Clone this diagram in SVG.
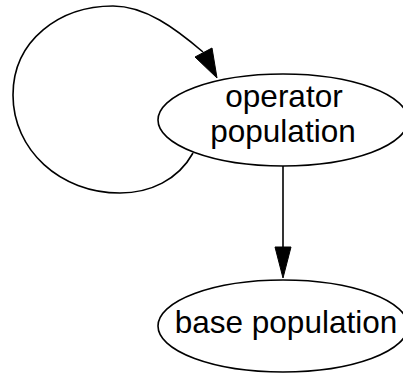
<svg xmlns="http://www.w3.org/2000/svg" width="403" height="373" viewBox="0 0 403 373">
  <style>
    .node ellipse { fill: none; stroke: #000; stroke-width: 1.6; }
    .node text { font-family: "Liberation Sans", Arial, sans-serif; font-size: 31.5px; fill: #000; text-anchor: middle; }
    .edge path { fill: none; stroke: #000; stroke-width: 1.6; }
    .edge polygon { fill: #000; stroke: #000; stroke-width: 1; }
  </style>
  <rect width="403" height="373" fill="#fff"/>
  <g id="edges">
    <g class="edge" id="edge-self">
      <path d="M193,153 C178,180 150,193 120,193 C60,193 13,150 13,95 C13,40 60,6 113,6 C145,6 175,28 203,52"/>
      <polygon points="217,78 195,57 212,48"/>
    </g>
    <g class="edge" id="edge-down">
      <path d="M283,166 L283,248"/>
      <polygon points="283,278 275,247 291,247"/>
    </g>
  </g>
  <g class="node" id="operator-population">
    <ellipse cx="283" cy="120" rx="125" ry="46"/>
    <text x="284" y="107">operator</text>
    <text x="283" y="142">population</text>
  </g>
  <g class="node" id="base-population">
    <ellipse cx="283" cy="326" rx="125" ry="46"/>
    <text x="286" y="333">base population</text>
  </g>
</svg>
